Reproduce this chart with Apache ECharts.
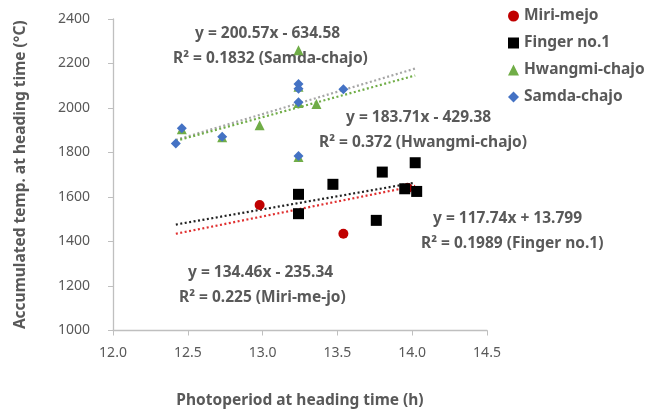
<!DOCTYPE html>
<html><head><meta charset="utf-8">
<script src="https://cdn.jsdelivr.net/npm/echarts@6/dist/echarts.min.js"></script>
<style>html,body{margin:0;padding:0;background:#fff}#c{width:655px;height:410px}</style>
</head><body><div id="c"></div>
<script>
const seriesNames = ['Miri-mejo', 'Finger no.1', 'Hwangmi-chajo', 'Samda-chajo'];
const miriX = [12.98, 13.54, 13.97];
const miriY = [1564, 1435, 1640];
const fingerX = [13.24, 13.24, 13.47, 13.80, 13.76, 13.95, 14.02, 14.03];
const fingerY = [1612, 1525, 1657, 1712, 1495, 1637, 1754, 1625];
const hwangX = [12.46, 12.73, 12.98, 13.24, 13.24, 13.24, 13.36, 13.24];
const hwangY = [1905, 1868, 1922, 2260, 2095, 2022, 2018, 1780];
const samdaX = [12.42, 12.46, 12.73, 13.24, 13.24, 13.24, 13.54, 13.24];
const samdaY = [1840, 1909, 1871, 2108, 2087, 2026, 2084, 1784];
// trend line equations shown in the chart: slope, intercept (Miri, Finger, Hwangmi, Samda)
const trendSlope = [134.46, 117.74, 183.71, 200.57];
const trendIntercept = [-235.34, 13.799, -429.38, -634.58];
const trendXRange = [12.42, 14.02];
const eqLabels = ['y = 134.46x - 235.34', 'y = 117.74x + 13.799', 'y = 183.71x - 429.38', 'y = 200.57x - 634.58'];
const r2Labels = ['R² = 0.225 (Miri-me-jo)', 'R² = 0.1989 (Finger no.1)', 'R² = 0.372 (Hwangmi-chajo)', 'R² = 0.1832 (Samda-chajo)'];
const xTicks = [12.0, 12.5, 13.0, 13.5, 14.0, 14.5];
const yTicks = [1000, 1200, 1400, 1600, 1800, 2000, 2200, 2400];

const colors = ['#C00000', '#000000', '#70AD47', '#4472C4'];
const trendColors = ['#E03030', '#222222', '#70AD47', '#A6A6A6'];
const symbols = ['circle', 'rect', 'triangle', 'diamond'];
const sizes = [10, 11, 10, 10];
const xs = [miriX, fingerX, hwangX, samdaX];
const ys = [miriY, fingerY, hwangY, samdaY];
const FONT = '"Noto Sans", sans-serif';
const TC = '#595959';

const series = [];
[3, 2, 1, 0].forEach(i => {
  series.push({
    type: 'line', name: 'trend' + i, silent: true, symbol: 'none',
    data: trendXRange.map(x => [x, trendSlope[i] * x + trendIntercept[i]]),
    lineStyle: { color: trendColors[i], width: 2.2, type: [2, 2.5] },
    z: 1
  });
});
[0, 1, 2, 3].forEach(i => {
  series.push({
    type: 'scatter', name: seriesNames[i], symbol: symbols[i], symbolSize: sizes[i],
    data: xs[i].map((x, k) => [x, ys[i][k]]),
    itemStyle: { color: colors[i], opacity: 1 },
    z: 3 + i
  });
});

const labelPos = [
  [{ left: 188, top: 265 }, { left: 179, top: 290 }],
  [{ left: 433, top: 211 }, { left: 421, top: 236 }],
  [{ left: 346, top: 110 }, { left: 319, top: 135 }],
  [{ left: 195, top: 26 }, { left: 173, top: 51 }]
];
const graphics = [];
for (let i = 0; i < 4; i++) {
  graphics.push({ type: 'text', left: labelPos[i][0].left, top: labelPos[i][0].top,
    style: { text: eqLabels[i], fill: TC, font: 'bold 15.5px ' + FONT } });
  graphics.push({ type: 'text', left: labelPos[i][1].left, top: labelPos[i][1].top,
    style: { text: r2Labels[i], fill: TC, font: 'bold 15.5px ' + FONT } });
}

const chart = echarts.init(document.getElementById('c'), null, { renderer: 'canvas' });
chart.setOption({
  animation: false,
  backgroundColor: '#fff',
  grid: { left: 113, top: 19, right: 168, bottom: 79.5, containLabel: false, outerBoundsMode: 'none' },
  xAxis: {
    type: 'value', min: xTicks[0], max: xTicks[xTicks.length - 1], interval: 0.5,
    name: 'Photoperiod at heading time (h)', nameLocation: 'middle', nameGap: 62,
    nameTextStyle: { color: TC, fontWeight: 'bold', fontSize: 15.5, fontFamily: FONT },
    axisLine: { show: true, lineStyle: { color: '#BFBFBF', width: 1.3 } },
    axisTick: { show: true, length: 5, lineStyle: { color: '#BFBFBF' } },
    axisLabel: { color: TC, fontSize: 14, fontFamily: FONT, margin: 16, formatter: v => v.toFixed(1) },
    splitLine: { show: false }
  },
  yAxis: {
    type: 'value', min: yTicks[0], max: yTicks[yTicks.length - 1], interval: 200,
    name: 'Accumulated temp. at heading time (°C)', nameLocation: 'middle', nameGap: 84,
    nameTextStyle: { color: TC, fontWeight: 'bold', fontSize: 15.5, fontFamily: FONT },
    axisLine: { show: true, lineStyle: { color: '#BFBFBF', width: 1.3 } },
    axisTick: { show: true, length: 5, lineStyle: { color: '#BFBFBF' } },
    axisLabel: { color: TC, fontSize: 14, fontFamily: FONT, margin: 23, formatter: v => String(v) },
    splitLine: { show: false }
  },
  legend: {
    data: seriesNames.map((n, i) => ({ name: n, icon: symbols[i] })),
    orient: 'vertical', left: 503, top: 3, itemWidth: 11, itemHeight: 11, itemGap: 11,
    textStyle: { color: TC, fontWeight: 'bold', fontSize: 15.5, fontFamily: FONT }
  },
  graphic: graphics,
  series: series
});
</script></body></html>
